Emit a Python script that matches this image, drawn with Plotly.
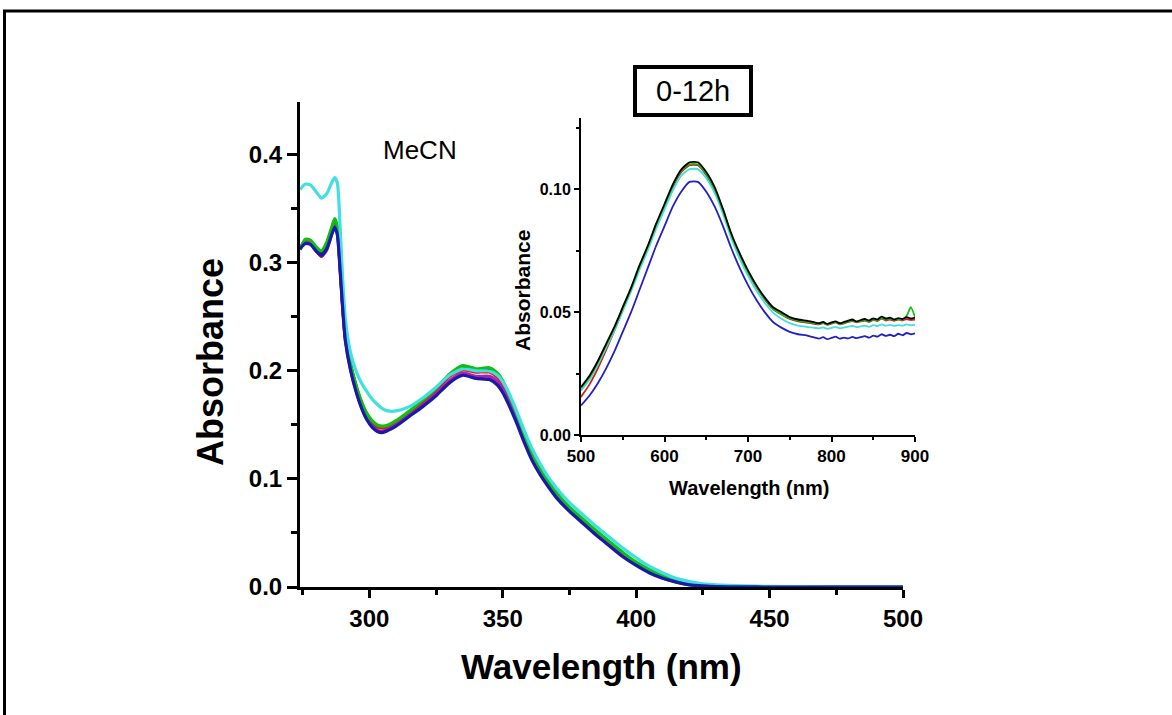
import plotly.graph_objects as go

# ---------------- Main spectrum data (MeCN, 0-12h) ----------------
wl_main = [274, 276, 278, 280, 282, 284, 286, 287, 288, 289, 290, 291, 293, 295, 297, 299,
           301, 303, 305, 307, 310, 315, 320, 325, 330, 335, 340, 345, 348, 350, 352, 355,
           358, 361, 364, 367, 370, 375, 380, 385, 390, 395, 400, 405, 410, 415, 420, 425,
           430, 440, 450, 460, 480, 500]

abs_blue = [0.313, 0.318, 0.317, 0.311, 0.307, 0.313, 0.327, 0.333, 0.326, 0.295, 0.258, 0.228,
            0.200, 0.181, 0.166, 0.155, 0.148, 0.144, 0.143, 0.145, 0.149, 0.158, 0.167, 0.177,
            0.189, 0.196, 0.193, 0.192, 0.187, 0.180, 0.170, 0.153, 0.134, 0.117, 0.104, 0.093,
            0.083, 0.070, 0.059, 0.048, 0.038, 0.028, 0.020, 0.013, 0.008, 0.0045, 0.002, 0.001,
            0.0004, 0.0001, 0.0, 0.0, 0.0, 0.0]

abs_magenta = [0.314, 0.319, 0.318, 0.312, 0.306, 0.312, 0.328, 0.335, 0.328, 0.296, 0.259, 0.229,
               0.201, 0.182, 0.167, 0.156, 0.149, 0.145, 0.144, 0.146, 0.150, 0.159, 0.168, 0.179,
               0.191, 0.198, 0.195, 0.195, 0.190, 0.183, 0.172, 0.155, 0.136, 0.119, 0.106, 0.095,
               0.085, 0.071, 0.060, 0.049, 0.039, 0.029, 0.021, 0.014, 0.008, 0.0048, 0.0022, 0.001,
               0.0005, 0.0001, 0.0, 0.0, 0.0, 0.0]

abs_red = [0.313, 0.320, 0.319, 0.312, 0.306, 0.314, 0.331, 0.338, 0.331, 0.298, 0.260, 0.231,
           0.204, 0.185, 0.170, 0.159, 0.152, 0.148, 0.147, 0.148, 0.152, 0.161, 0.171, 0.182,
           0.195, 0.201, 0.199, 0.199, 0.194, 0.187, 0.177, 0.159, 0.140, 0.122, 0.108, 0.097,
           0.087, 0.073, 0.062, 0.051, 0.041, 0.031, 0.022, 0.015, 0.009, 0.0055, 0.0027, 0.0013,
           0.0006, 0.0002, 0.0001, 0.0, 0.0, 0.0]

abs_black = [0.313, 0.321, 0.320, 0.313, 0.309, 0.316, 0.332, 0.339, 0.332, 0.299, 0.261, 0.232,
             0.205, 0.186, 0.171, 0.160, 0.153, 0.149, 0.148, 0.149, 0.153, 0.162, 0.172, 0.183,
             0.196, 0.203, 0.200, 0.201, 0.196, 0.189, 0.178, 0.160, 0.141, 0.123, 0.109, 0.097,
             0.087, 0.073, 0.062, 0.051, 0.041, 0.031, 0.022, 0.015, 0.0095, 0.0055, 0.0028, 0.0014,
             0.0006, 0.0002, 0.0001, 0.0, 0.0, 0.0]

abs_green = [0.312, 0.322, 0.321, 0.315, 0.311, 0.319, 0.334, 0.341, 0.334, 0.300, 0.262, 0.233,
             0.206, 0.187, 0.172, 0.161, 0.154, 0.150, 0.149, 0.150, 0.154, 0.163, 0.173, 0.184,
             0.197, 0.205, 0.202, 0.203, 0.198, 0.191, 0.180, 0.162, 0.142, 0.124, 0.110, 0.098,
             0.088, 0.074, 0.063, 0.052, 0.042, 0.032, 0.023, 0.016, 0.010, 0.006, 0.003, 0.0015,
             0.0007, 0.0002, 0.0001, 0.0, 0.0, 0.0]

abs_cyan = [0.368, 0.373, 0.372, 0.366, 0.360, 0.364, 0.375, 0.379, 0.374, 0.335, 0.285, 0.248,
            0.216, 0.200, 0.189, 0.181, 0.174, 0.169, 0.165, 0.163, 0.163, 0.167, 0.175, 0.185,
            0.196, 0.202, 0.200, 0.200, 0.196, 0.190, 0.181, 0.164, 0.145, 0.128, 0.114, 0.102,
            0.092, 0.078, 0.067, 0.056, 0.046, 0.036, 0.027, 0.019, 0.013, 0.008, 0.005, 0.003,
            0.002, 0.001, 0.0005, 0.0003, 0.0002, 0.0002]

# ---------------- Inset data (500-900 nm) ----------------
wl_inset = [500, 510, 520, 530, 540, 550, 560, 570, 580, 590, 600, 610, 620, 630, 640, 650,
            660, 670, 680, 690, 700, 710, 720, 730, 740, 750, 760, 770,
            775, 780, 785, 790, 795, 800, 805, 810, 815, 820, 825, 830, 835, 840, 845, 850,
            855, 860, 865, 870, 875, 880, 885, 890, 895, 900]

ins_black = [0.0195, 0.024, 0.030, 0.037, 0.044, 0.052, 0.060, 0.069, 0.077, 0.086, 0.094, 0.102,
             0.108, 0.111, 0.111, 0.107, 0.101, 0.092, 0.082, 0.074, 0.067, 0.061, 0.056, 0.052,
             0.050, 0.048, 0.047, 0.0465,
             0.0462, 0.0458, 0.0455, 0.0460, 0.0452, 0.0458, 0.0462, 0.0455, 0.0460, 0.0465,
             0.0470, 0.0462, 0.0468, 0.0472, 0.0466, 0.0475, 0.0470, 0.0482, 0.0474, 0.0478,
             0.0470, 0.0476, 0.0472, 0.0480, 0.0474, 0.0478]

ins_green = [0.0190, 0.0235, 0.0295, 0.0365, 0.0435, 0.0515, 0.0595, 0.0685, 0.0765, 0.0855,
             0.0935, 0.1015, 0.1075, 0.1102, 0.1102, 0.1062, 0.1002, 0.0915, 0.0815, 0.0735,
             0.0665, 0.0605, 0.0555, 0.0515, 0.0493, 0.0475, 0.0465, 0.0460,
             0.0458, 0.0455, 0.0452, 0.0456, 0.0450, 0.0455, 0.0460, 0.0452, 0.0456, 0.0462,
             0.0466, 0.0460, 0.0464, 0.0468, 0.0462, 0.0470, 0.0466, 0.0476, 0.0470, 0.0474,
             0.0468, 0.0472, 0.0470, 0.0485, 0.0520, 0.0480]

ins_red = [0.0155, 0.0205, 0.0270, 0.0345, 0.0425, 0.0508, 0.0590, 0.0680, 0.0762, 0.0852,
           0.0932, 0.1010, 0.1070, 0.1098, 0.1098, 0.1058, 0.0998, 0.0912, 0.0812, 0.0732,
           0.0662, 0.0602, 0.0552, 0.0512, 0.0490, 0.0472, 0.0462, 0.0457,
           0.0455, 0.0452, 0.0450, 0.0455, 0.0448, 0.0453, 0.0458, 0.0450, 0.0454, 0.0460,
           0.0464, 0.0458, 0.0462, 0.0466, 0.0460, 0.0468, 0.0464, 0.0474, 0.0466, 0.0470,
           0.0465, 0.0470, 0.0466, 0.0472, 0.0468, 0.0470]

ins_cyan = [0.0180, 0.0225, 0.0285, 0.0355, 0.0425, 0.0505, 0.0585, 0.0672, 0.0752, 0.0840,
            0.0918, 0.0995, 0.1055, 0.1082, 0.1082, 0.1045, 0.0985, 0.0900, 0.0800, 0.0718,
            0.0648, 0.0588, 0.0538, 0.0498, 0.0473, 0.0455, 0.0445, 0.0440,
            0.0438, 0.0436, 0.0434, 0.0438, 0.0432, 0.0436, 0.0440, 0.0434, 0.0437, 0.0441,
            0.0444, 0.0439, 0.0442, 0.0445, 0.0440, 0.0447, 0.0443, 0.0450, 0.0445, 0.0448,
            0.0444, 0.0447, 0.0445, 0.0450, 0.0446, 0.0448]

ins_blue = [0.0120, 0.0160, 0.0210, 0.0270, 0.0340, 0.0420, 0.0500, 0.0590, 0.0680, 0.0770,
            0.0850, 0.0930, 0.0990, 0.1030, 0.1030, 0.0990, 0.0930, 0.0850, 0.0760, 0.0680,
            0.0610, 0.0550, 0.0500, 0.0460, 0.0437, 0.0420, 0.0410, 0.0405,
            0.0400, 0.0396, 0.0392, 0.0398, 0.0390, 0.0395, 0.0400, 0.0392, 0.0396, 0.0393,
            0.0399, 0.0394, 0.0398, 0.0402, 0.0396, 0.0404, 0.0400, 0.0410, 0.0403, 0.0408,
            0.0402, 0.0412, 0.0406, 0.0415, 0.0410, 0.0414]

main_ticks_x = [300, 350, 400, 450, 500]
main_ticks_y = [0.0, 0.1, 0.2, 0.3, 0.4]
main_ticktext_y = ["0.0", "0.1", "0.2", "0.3", "0.4"]
inset_ticks_x = [500, 600, 700, 800, 900]
inset_ticks_y = [0.0, 0.05, 0.10]
inset_ticktext_y = ["0.00", "0.05", "0.10"]

FONT = "Liberation Sans, Arial, sans-serif"
W, H = 1172, 715

def px(x):
    return x / W

def py(y):
    return (H - y) / H

fig = go.Figure()

main_series = [
    (abs_black, "#000000"),
    (abs_red, "#e01818"),
    (abs_magenta, "#b020b0"),
    (abs_green, "#10c010"),
    (abs_cyan, "#40e0e0"),
    (abs_blue, "#1a1aa8"),
]
for vals, col in main_series:
    fig.add_trace(go.Scatter(x=wl_main, y=vals, mode="lines",
                             line=dict(color=col, width=3.2, shape="spline", smoothing=0.6),
                             xaxis="x", yaxis="y", hoverinfo="skip"))

inset_series = [
    (ins_blue, "#2020c8"),
    (ins_red, "#e01818"),
    (ins_cyan, "#40e0e0"),
    (ins_green, "#10c010"),
    (ins_black, "#000000"),
]
for vals, col in inset_series:
    fig.add_trace(go.Scatter(x=wl_inset, y=vals, mode="lines",
                             line=dict(color=col, width=1.8, shape="spline", smoothing=0.5),
                             xaxis="x2", yaxis="y2", hoverinfo="skip"))

fig.update_layout(
    width=W, height=H,
    margin=dict(l=0, r=0, t=0, b=0, autoexpand=False),
    paper_bgcolor="white", plot_bgcolor="rgba(0,0,0,0)",
    showlegend=False,
    font=dict(family=FONT, color="black"),
    xaxis=dict(domain=[px(300), px(903)], range=[274, 500], anchor="y",
               showline=True, linewidth=3, linecolor="black",
               ticks="outside", ticklen=8, tickwidth=3, tickcolor="black",
               tickvals=main_ticks_x,
               tickfont=dict(family=FONT, size=24, weight="bold"),
               minor=dict(ticks="outside", ticklen=5, tickwidth=2.5, tickcolor="black",
                          dtick=25, tick0=300),
               showgrid=False, zeroline=False, automargin=False),
    yaxis=dict(domain=[py(587), py(102)], range=[0, 0.449], anchor="x",
               showline=True, linewidth=3, linecolor="black",
               ticks="outside", ticklen=10, tickwidth=3, tickcolor="black",
               tickvals=main_ticks_y, ticktext=main_ticktext_y,
               tickfont=dict(family=FONT, size=24, weight="bold"),
               minor=dict(ticks="outside", ticklen=6, tickwidth=2.5, tickcolor="black",
                          dtick=0.05, tick0=0),
               showgrid=False, zeroline=False, automargin=False),
    xaxis2=dict(domain=[px(581), px(915)], range=[500, 900], anchor="y2",
                showline=True, linewidth=2, linecolor="black",
                ticks="outside", ticklen=5, tickwidth=2, tickcolor="black",
                tickvals=inset_ticks_x,
                tickfont=dict(family=FONT, size=17, weight="bold"),
                minor=dict(ticks="outside", ticklen=3, tickwidth=1.5, tickcolor="black",
                           dtick=50, tick0=500),
                showgrid=False, zeroline=False, automargin=False),
    yaxis2=dict(domain=[py(435), py(118)], range=[0, 0.129], anchor="x2",
                showline=True, linewidth=2, linecolor="black",
                ticks="outside", ticklen=5, tickwidth=2, tickcolor="black",
                tickvals=inset_ticks_y, ticktext=inset_ticktext_y,
                tickfont=dict(family=FONT, size=16, weight="bold"),
                minor=dict(ticks="outside", ticklen=3, tickwidth=1.5, tickcolor="black",
                           dtick=0.025, tick0=0),
                showgrid=False, zeroline=False, automargin=False),
)

annotations = [
    dict(text="MeCN", x=px(420), y=py(150), font=dict(family=FONT, size=26)),
    dict(text="0-12h", x=px(693), y=py(91), font=dict(family=FONT, size=29)),
    dict(text="Wavelength (nm)", x=px(601), y=py(666),
         font=dict(family=FONT, size=35, weight="bold")),
    dict(text="Absorbance", x=px(210), y=py(362), textangle=-90,
         font=dict(family=FONT, size=36, weight="bold")),
    dict(text="Wavelength (nm)", x=px(749), y=py(488),
         font=dict(family=FONT, size=20, weight="bold")),
    dict(text="Absorbance", x=px(522), y=py(291), textangle=-90,
         font=dict(family=FONT, size=21, weight="bold")),
]
for a in annotations:
    fig.add_annotation(xref="paper", yref="paper", showarrow=False,
                       xanchor="center", yanchor="middle", **a)

# outer frame (extends beyond the right and bottom edges)
fig.add_shape(type="rect", xref="paper", yref="paper",
              x0=px(4.5), x1=1.02, y0=-0.03, y1=py(11),
              line=dict(color="black", width=3), fillcolor="rgba(0,0,0,0)")
# "0-12h" box
fig.add_shape(type="rect", xref="paper", yref="paper",
              x0=px(635), x1=px(751), y0=py(115), y1=py(67),
              line=dict(color="black", width=4), fillcolor="rgba(0,0,0,0)")

fig.write_html("out.html",
               config={"displayModeBar": False},
               post_script="document.body.style.margin='0';document.body.style.overflow='hidden';")
